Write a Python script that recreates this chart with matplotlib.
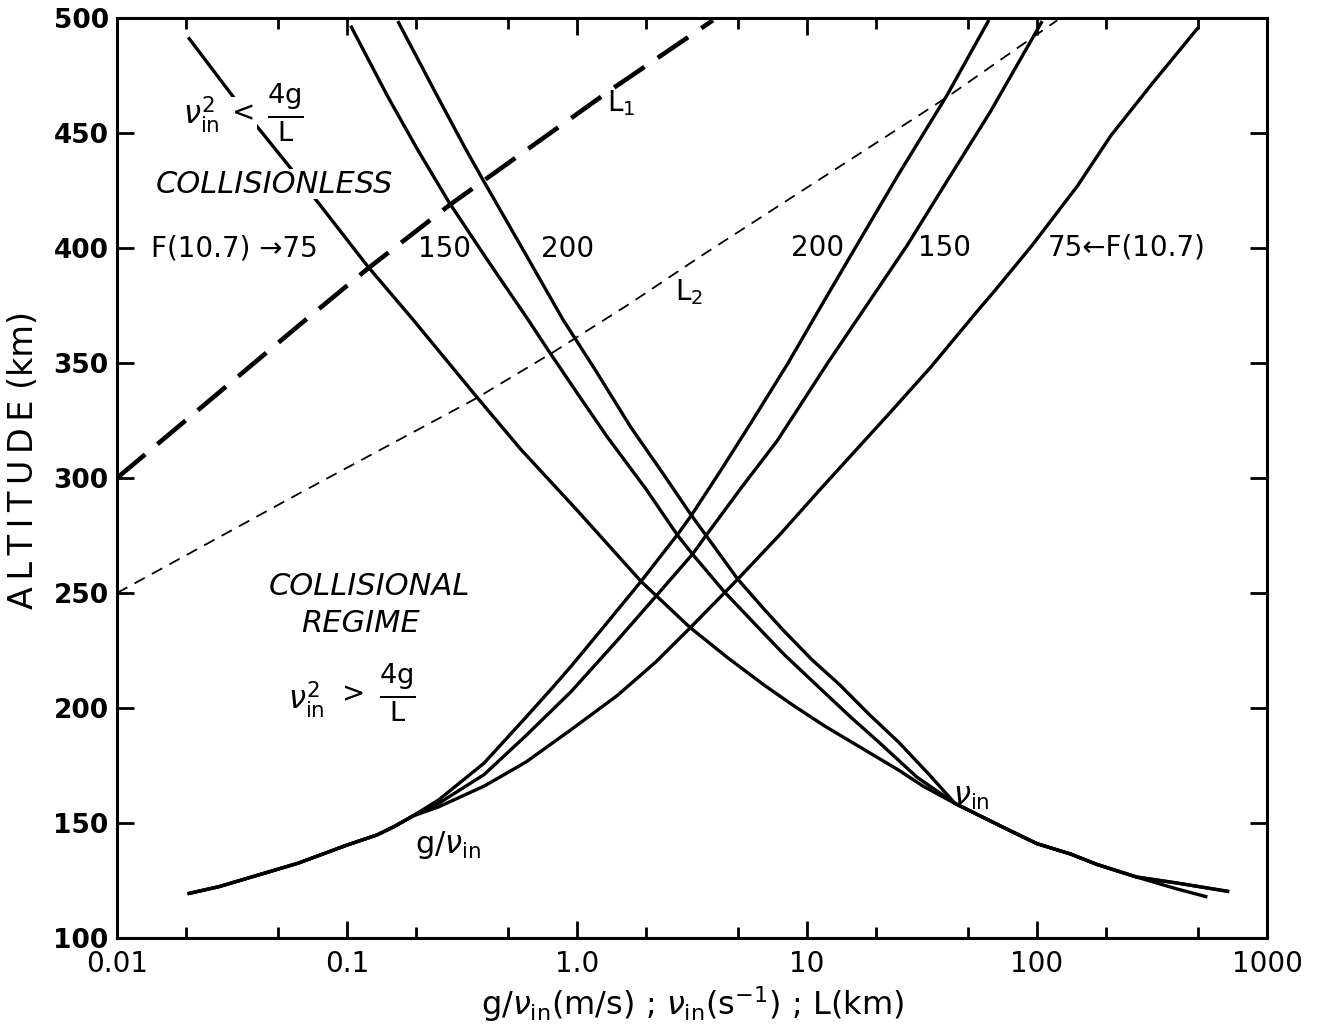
import matplotlib.pyplot as plt
from matplotlib.ticker import FixedLocator, NullFormatter

plt.rcParams['font.family'] = 'DejaVu Sans'
plt.rcParams['mathtext.fontset'] = 'dejavusans'

# ion-neutral collision frequency nu_in (s^-1) vs altitude, for F(10.7) = 75, 150, 200
nu75_x = [0.0206, 0.0324, 0.0545, 0.0759, 0.123, 0.193, 0.368, 0.569, 1.0, 1.9, 3.1, 4.5, 6.5, 8.6,
          12, 17, 25, 32, 44, 70, 100, 140, 182, 271, 400, 542]
nu75_alt = [491, 465, 437, 419, 392, 369, 335, 312.5, 286, 255, 235, 222, 210, 201.5,
            192, 183, 173, 166, 158.5, 148.5, 141, 136.5, 132, 126.5, 121.5, 118]

nu150_x = [0.1045, 0.15, 0.202, 0.277, 0.4, 0.611, 0.744, 1.0, 1.35, 2.0, 2.74, 3.2, 4.37, 6.27,
           8.0, 11.4, 15.5, 20.6, 30, 44, 70, 100, 140, 182, 271, 400, 674]
nu150_alt = [496, 466, 443, 420, 396, 369, 356, 337, 318, 295, 275, 266.5, 250.5, 234,
             223, 208.5, 196, 185, 170, 158.5, 148.5, 141, 136.5, 132, 126.5, 124, 120.3]

nu200_x = [0.1675, 0.25, 0.328, 0.388, 0.6, 0.867, 1.2, 1.715, 2.4, 3.13, 3.64, 5.0, 6.5, 7.85,
           10.5, 13.9, 18.5, 25.1, 34, 44, 70, 100, 140, 182, 271, 400, 674]
nu200_alt = [498, 465, 443, 430, 397, 369, 347, 322, 301, 284, 275, 256, 243, 234,
             221, 210, 197.5, 185, 171, 158.5, 148.5, 141, 136.5, 132, 126.5, 124, 120.3]

# g / nu_in (m/s)
gv75_x = [0.0206, 0.0277, 0.0412, 0.0612, 0.1, 0.135, 0.16, 0.193, 0.25, 0.394, 0.6, 0.94, 1.5,
          2.2, 3.08, 4.37, 5.0, 7.72, 11.4, 22.3, 34.4, 55.5, 65, 95, 150, 210, 320, 500]
gv75_alt = [119.4, 122.3, 127.4, 132.5, 140.4, 144.8, 148.4, 153, 157, 166, 176.5, 190.5, 205.5,
            220, 234.5, 250, 256, 276, 295, 327, 348, 373, 381, 401, 427, 449, 472, 495.6]

gv150_x = [0.0206, 0.0277, 0.0412, 0.0612, 0.1, 0.135, 0.16, 0.193, 0.25, 0.394, 0.6, 0.94, 1.5,
           2.2, 3.185, 3.64, 5.2, 7.4, 12.3, 17.6, 27.2, 40, 62.5, 104.5]
gv150_alt = [119.4, 122.3, 127.4, 132.5, 140.4, 144.8, 148.4, 153, 158.5, 171, 188, 207, 229.5,
             248.5, 267, 275, 296, 316, 350, 373, 401, 428, 459, 498]

gv200_x = [0.0206, 0.0277, 0.0412, 0.0612, 0.1, 0.135, 0.16, 0.193, 0.25, 0.394, 0.6, 0.769, 0.94,
           1.3, 1.896, 2.74, 3.13, 4.2, 5.71, 8.28, 11.4, 16.2, 25, 40.4, 61.3]
gv200_alt = [119.4, 122.3, 127.4, 132.5, 140.4, 144.8, 148.4, 153, 160, 176, 196, 208, 218,
             235, 255, 275.5, 283.5, 303, 324, 350, 374, 400, 432, 466, 498.5]

# scale lengths L (km)
L1_x = [0.01, 0.021, 0.0612, 0.123, 0.282, 1.40, 3.9]
L1_alt = [300, 327, 366, 391, 419, 468.7, 499]
L2_x = [0.01, 0.0612, 0.364, 0.794, 1.71, 3.46, 40.4, 122.5]
L2_alt = [250, 293, 334.6, 354.9, 376, 396.5, 465.4, 499]

xticks = [0.01, 0.1, 1, 10, 100, 1000]
xticklabels = ['0.01', '0.1', '1.0', '10', '100', '1000']
yticks = [100, 150, 200, 250, 300, 350, 400, 450, 500]

fig = plt.figure(figsize=(13.18, 10.32), dpi=100)
ax = fig.add_axes([0.0888, 0.0911, 0.8725, 0.8915])

lw = 2.4
for xs, ys in [(nu75_x, nu75_alt), (nu150_x, nu150_alt), (nu200_x, nu200_alt),
               (gv75_x, gv75_alt), (gv150_x, gv150_alt), (gv200_x, gv200_alt)]:
    ax.plot(xs, ys, color='black', lw=lw, zorder=2)

ax.plot(L1_x, L1_alt, color='black', lw=3.3, dashes=(8, 3.5), zorder=2)
ax.plot(L2_x, L2_alt, color='black', lw=1.3, dashes=(6.5, 4.5), zorder=2)

ax.set_xscale('log')
ax.set_xlim(0.01, 1000)
ax.set_ylim(100, 500)
ax.xaxis.set_major_locator(FixedLocator(xticks))
ax.set_xticklabels(xticklabels)
minors = [m * 10.0 ** e for e in range(-2, 3) for m in (2, 5)]
ax.xaxis.set_minor_locator(FixedLocator(minors))
ax.xaxis.set_minor_formatter(NullFormatter())
ax.set_yticks(yticks)
ax.set_yticklabels([str(v) for v in yticks], fontweight='bold')

ax.tick_params(which='both', direction='in', top=True, right=True, width=2, color='black')
ax.tick_params(which='major', length=12, labelsize=20, pad=9)
ax.tick_params(which='minor', length=8)
ax.tick_params(axis='y', labelsize=19, pad=6)
for s in ax.spines.values():
    s.set_linewidth(2.2)

ax.set_ylabel('\u2009'.join('ALTITUDE') + ' (km)', fontsize=24, labelpad=10, y=0.52)
ax.set_xlabel(r'g/$\nu_{\rm in}$(m/s) ; $\nu_{\rm in}$(s$^{-1}$) ; L(km)', fontsize=23, labelpad=4)

# annotations
frac = r'$\frac{\mathrm{4g}}{\mathrm{L}}$'
wbox = dict(fc='white', ec='none', pad=1.5)
ax.text(0.0232, 458, r'$\nu^2_{\rm in}$', fontsize=22, ha='center', va='center')
ax.text(0.0354, 458.5, '<', fontsize=20, ha='center', va='center', bbox=wbox)
ax.text(0.054, 458.7, frac, fontsize=28, ha='center', va='center')
ax.text(0.0483, 427.8, 'COLLISIONLESS', fontsize=22, style='italic', ha='center', va='center',
        bbox=dict(fc='white', ec='none', pad=0.5))
ax.text(0.0141, 399.6, 'F(10.7) \u219275', fontsize=20, ha='left', va='center')
ax.text(0.2656, 399.6, '150', fontsize=20, ha='center', va='center')
ax.text(0.908, 399.6, '200', fontsize=20, ha='center', va='center')
ax.text(11.1, 400, '200', fontsize=20, ha='center', va='center')
ax.text(39.6, 400, '150', fontsize=20, ha='center', va='center')
ax.text(111, 400, '75\u2190F(10.7)', fontsize=20, ha='left', va='center')
ax.text(1.552, 463, r'L$_1$', fontsize=20, ha='center', va='center')
ax.text(3.07, 381, r'L$_2$', fontsize=20, ha='center', va='center')
ax.text(0.1245, 252.8, 'COLLISIONAL', fontsize=22, style='italic', ha='center', va='center')
ax.text(0.114, 236.7, 'REGIME', fontsize=22, style='italic', ha='center', va='center')
ax.text(0.0664, 203.5, r'$\nu^2_{\rm in}$', fontsize=22, ha='center', va='center')
ax.text(0.1066, 206, '>', fontsize=20, ha='center', va='center')
ax.text(0.1652, 206.4, frac, fontsize=28, ha='center', va='center')
ax.text(0.274, 140.4, r'g/$\nu_{\rm in}$', fontsize=22, ha='center', va='center')
ax.text(51.9, 161, r'$\nu_{\rm in}$', fontsize=22, ha='center', va='center')

fig.savefig('out.png', dpi=100)
